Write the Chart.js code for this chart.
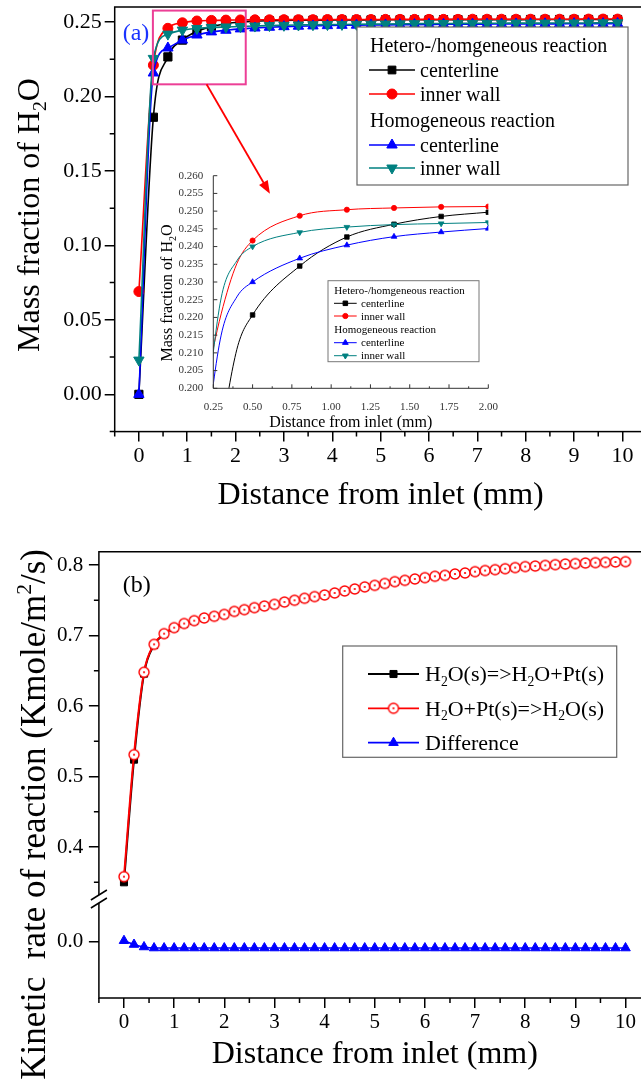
<!DOCTYPE html>
<html><head><meta charset="utf-8">
<script src="https://cdn.jsdelivr.net/npm/chart.js@4.4.0/dist/chart.umd.min.js"></script>
<style>
html,body{margin:0;padding:0;background:#fff;overflow:hidden;width:641px;height:1087px;position:relative;}
canvas{position:absolute;}
#cA{left:0;top:0;} #cIn{left:150px;top:160px;} #cB{left:0;top:520px;}
</style></head><body>
<canvas id="cA" width="680" height="520"></canvas>
<canvas id="cIn" width="350" height="275"></canvas>
<canvas id="cB" width="680" height="567"></canvas>
<script>
// ---------- DATA: panel (a) ----------
const distA = [0,0.3,0.6,0.9,1.2,1.5,1.8,2.1,2.4,2.7,3.0,3.3,3.6,3.9,4.2,4.5,4.8,5.1,5.4,5.7,6.0,6.3,6.6,6.9,7.2,7.5,7.8,8.1,8.4,8.7,9.0,9.3,9.6,9.9];
const hetCenter = [0,0.186,0.2265,0.2378,0.2437,0.2469,0.2488,0.2499,0.2505,0.2508,0.2510,0.2511,0.2512,0.2512,0.2513,0.2513,0.2513,0.2514,0.2514,0.2514,0.2514,0.2515,0.2515,0.2515,0.2515,0.2515,0.2515,0.2516,0.2516,0.2516,0.2516,0.2516,0.2516,0.2516];
const hetWall = [0.069,0.221,0.2457,0.2494,0.2506,0.2510,0.2512,0.2513,0.2514,0.2514,0.2515,0.2515,0.2515,0.2516,0.2516,0.2516,0.2516,0.2517,0.2517,0.2517,0.2517,0.2517,0.2517,0.2518,0.2518,0.2518,0.2518,0.2518,0.2518,0.2518,0.2518,0.2519,0.2519,0.2519];
const homCenter = [0,0.2157,0.2325,0.2378,0.2412,0.2433,0.2444,0.2453,0.2459,0.2464,0.2468,0.2471,0.2473,0.2475,0.2477,0.2478,0.2479,0.2480,0.2481,0.2482,0.2483,0.2484,0.2484,0.2485,0.2485,0.2486,0.2486,0.2487,0.2487,0.2487,0.2488,0.2488,0.2488,0.2489];
const homWall = [0.023,0.2255,0.2418,0.2445,0.2456,0.2463,0.2466,0.2469,0.2472,0.2475,0.2477,0.2479,0.2481,0.2482,0.2483,0.2484,0.2485,0.2486,0.2487,0.2488,0.2489,0.2489,0.2490,0.2490,0.2491,0.2491,0.2492,0.2492,0.2492,0.2493,0.2493,0.2493,0.2494,0.2494];
const xTicksA = [0,1,2,3,4,5,6,7,8,9,10];
const yTicksA = [0,0.05,0.10,0.15,0.20,0.25];
const xMinorA = [-0.5,0.5,1.5,2.5,3.5,4.5,5.5,6.5,7.5,8.5,9.5,10.5];
const yMinorA = [-0.025,0.025,0.075,0.125,0.175,0.225];

// ---------- DATA: inset ----------
const distIn = [0.2,0.3,0.4,0.5,0.8,1.1,1.4,1.7,2.0];
const inHetCenter = [0.150,0.186,0.211,0.2207,0.2345,0.2427,0.2463,0.2485,0.2497];
const inHetWall = [0.201,0.221,0.2352,0.2417,0.2487,0.2504,0.2509,0.2512,0.2513];
const inHomCenter = [0.185,0.215,0.2258,0.2300,0.2367,0.2404,0.2428,0.2441,0.2451];
const inHomWall = [0.192,0.2255,0.2360,0.2400,0.2440,0.2455,0.2462,0.2465,0.2468];
const xTicksIn = [0.25,0.50,0.75,1.00,1.25,1.50,1.75,2.00];
const yTicksIn = [0.200,0.205,0.210,0.215,0.220,0.225,0.230,0.235,0.240,0.245,0.250,0.255,0.260];
const xMinorIn = [0.375,0.625,0.875,1.125,1.375,1.625,1.875];

// ---------- DATA: panel (b) ----------
const distB = [0,0.2,0.4,0.6,0.8,1.0,1.2,1.4,1.6,1.8,2.0,2.2,2.4,2.6,2.8,3.0,3.2,3.4,3.6,3.8,4.0,4.2,4.4,4.6,4.8,5.0,5.2,5.4,5.6,5.8,6.0,6.2,6.4,6.6,6.8,7.0,7.2,7.4,7.6,7.8,8.0,8.2,8.4,8.6,8.8,9.0,9.2,9.4,9.6,9.8,10.0];
const rateDesorb = [0.350,0.524,0.646,0.6865,0.7022,0.7108,0.7167,0.7208,0.7247,0.7271,0.7298,0.7340,0.7365,0.7393,0.7416,0.7440,0.7473,0.7498,0.7526,0.7550,0.7573,0.7602,0.7630,0.7658,0.7688,0.7710,0.7736,0.7762,0.7781,0.7800,0.7819,0.7838,0.7852,0.7871,0.7885,0.7904,0.7920,0.7932,0.7946,0.7962,0.7976,0.7984,0.7993,0.8003,0.8012,0.8018,0.8026,0.8032,0.8036,0.8041,0.8046];
const rateAdsorb = [0.358,0.531,0.648,0.6875,0.7027,0.7112,0.7170,0.7211,0.7249,0.7273,0.7300,0.7342,0.7367,0.7395,0.7418,0.7442,0.7475,0.7500,0.7528,0.7552,0.7575,0.7604,0.7632,0.7660,0.7690,0.7712,0.7738,0.7764,0.7783,0.7802,0.7821,0.7840,0.7854,0.7873,0.7887,0.7906,0.7922,0.7934,0.7948,0.7964,0.7978,0.7986,0.7995,0.8005,0.8014,0.8020,0.8028,0.8034,0.8038,0.8043,0.8048];
const rateDiff = [0.0014,-0.004,-0.0075,-0.009,-0.009,-0.009,-0.009,-0.009,-0.009,-0.009,-0.009,-0.009,-0.009,-0.009,-0.009,-0.009,-0.009,-0.009,-0.009,-0.009,-0.009,-0.009,-0.009,-0.009,-0.009,-0.009,-0.009,-0.009,-0.009,-0.009,-0.009,-0.009,-0.009,-0.009,-0.009,-0.009,-0.009,-0.009,-0.009,-0.009,-0.009,-0.009,-0.009,-0.009,-0.009,-0.009,-0.009,-0.009,-0.009,-0.009,-0.009];
const xTicksB = [0,1,2,3,4,5,6,7,8,9,10];
const yTicksBHigh = [0.4,0.5,0.6,0.7,0.8];
const yTicksBLow = [0.0];
const xMinorB = [-0.5,0.5,1.5,2.5,3.5,4.5,5.5,6.5,7.5,8.5,9.5,10.5];
const yMinorBHigh = [0.35,0.45,0.55,0.65,0.75];

// zoom-window annotation in panel (a), data coordinates
const zoomWin = {x0:0.29, x1:2.21, y0:0.2081, y1:0.2576};
const arrowFrom = {x:1.4, y:0.2081}, arrowTo = {x:2.71, y:0.1347};

// ---------- helpers ----------
const SERIF = "'Liberation Serif','Times New Roman',Times,serif";
const BLACK='#000000', RED='#ff0000', BLUE='#0000ff', TEAL='#008080';
function pts(xs, ys){ return xs.map((x,i)=>({x:x, y:ys[i]})); }
function fixW(w){ return s => { s.width = w; s.paddingTop=0; s.paddingBottom=0; s.paddingLeft=0; s.paddingRight=0; }; }
function fixH(h){ return s => { s.height = h; s.paddingTop=0; s.paddingBottom=0; s.paddingLeft=0; s.paddingRight=0; }; }
function setTicks(arr){ return s => { s.ticks = arr.map(v => ({value:v})); }; }

function drawRich(ctx, parts, x, y, size, opts){
  opts = opts || {};
  ctx.save();
  ctx.translate(x, y);
  if (opts.rotate) ctx.rotate(-Math.PI/2);
  ctx.fillStyle = opts.color || '#000';
  ctx.textBaseline = 'alphabetic';
  ctx.textAlign = 'left';
  const segs = parts.map(p => {
    const s = (p.sub || p.sup) ? size*0.62 : size;
    ctx.font = s + 'px ' + SERIF;
    return {t:p.t, s:s, w:ctx.measureText(p.t).width, dy: p.sub ? size*0.22 : (p.sup ? -size*0.4 : 0)};
  });
  const total = segs.reduce((a,b)=>a+b.w, 0);
  let cx = opts.align === 'center' ? -total/2 : (opts.align === 'right' ? -total : 0);
  const base = size*0.33;
  for (const sg of segs){
    ctx.font = sg.s + 'px ' + SERIF;
    ctx.fillText(sg.t, cx, base + sg.dy);
    cx += sg.w;
  }
  ctx.restore();
}

function makeOpenCircle(r, color){
  const c = document.createElement('canvas');
  const s = Math.ceil(2*r + 4); c.width = s; c.height = s;
  const g = c.getContext('2d');
  g.beginPath(); g.arc(s/2, s/2, r, 0, Math.PI*2);
  g.fillStyle = '#fff'; g.fill();
  g.lineWidth = 1.4; g.strokeStyle = color; g.stroke();
  g.beginPath(); g.arc(s/2, s/2, 1.1, 0, Math.PI*2); g.fillStyle = color; g.fill();
  return c;
}
const openCircle = makeOpenCircle(5, RED);

function drawMarker(ctx, m, x, y){
  ctx.save();
  ctx.translate(x, y);
  if (m.image){ ctx.drawImage(m.image, -m.image.width/2, -m.image.height/2); ctx.restore(); return; }
  ctx.fillStyle = m.color; ctx.strokeStyle = m.color; ctx.lineWidth = 1;
  const r = m.r;
  ctx.beginPath();
  if (m.style === 'rect'){ const s = r*Math.SQRT1_2; ctx.rect(-s,-s,2*s,2*s); }
  else if (m.style === 'circle'){ ctx.arc(0,0,r,0,Math.PI*2); }
  else { const d = m.down ? -1 : 1; ctx.moveTo(0,-d*r); ctx.lineTo(0.866*r, d*0.5*r); ctx.lineTo(-0.866*r, d*0.5*r); ctx.closePath(); }
  ctx.fill(); ctx.stroke();
  ctx.restore();
}
function legendSample(ctx, x0, x1, y, color, lw, m){
  ctx.save();
  ctx.strokeStyle = color; ctx.lineWidth = lw;
  ctx.beginPath(); ctx.moveTo(x0, y); ctx.lineTo(x1, y); ctx.stroke();
  ctx.restore();
  drawMarker(ctx, m, (x0+x1)/2, y);
}
function tickMarks(ctx, scale, vals, axis, base, len){
  ctx.beginPath();
  for (const v of vals){
    const p = scale.getPixelForValue(v);
    if (axis === 'x'){ ctx.moveTo(p, base); ctx.lineTo(p, base + len); }
    else { ctx.moveTo(base, p); ctx.lineTo(base + len, p); }
  }
  ctx.stroke();
}

const H2O = [{t:'Mass fraction of H'},{t:'2',sub:true},{t:'O'}];

// ---------- plugins ----------
const decoA = {
  id:'decoA',
  afterDraw(chart){
    const {ctx, chartArea:ca, scales:{x, y}} = chart;
    ctx.save();
    ctx.strokeStyle = '#000'; ctx.lineWidth = 1.5;
    ctx.strokeRect(ca.left, ca.top, ca.right-ca.left, ca.bottom-ca.top);
    tickMarks(ctx, x, xMinorA, 'x', ca.bottom, 5);
    tickMarks(ctx, y, yMinorA, 'y', ca.left, -5);
    // zoom window
    ctx.strokeStyle = '#ec3f96'; ctx.lineWidth = 2;
    const bx0 = x.getPixelForValue(zoomWin.x0), bx1 = x.getPixelForValue(zoomWin.x1);
    const by0 = y.getPixelForValue(zoomWin.y1), by1 = y.getPixelForValue(zoomWin.y0);
    ctx.strokeRect(bx0, by0, bx1-bx0, by1-by0);
    // arrow
    const ax0 = x.getPixelForValue(arrowFrom.x), ay0 = y.getPixelForValue(arrowFrom.y);
    const ax1 = x.getPixelForValue(arrowTo.x), ay1 = y.getPixelForValue(arrowTo.y);
    const ang = Math.atan2(ay1-ay0, ax1-ax0);
    ctx.strokeStyle = RED; ctx.fillStyle = RED; ctx.lineWidth = 1.8;
    ctx.beginPath(); ctx.moveTo(ax0, ay0); ctx.lineTo(ax1 - 10*Math.cos(ang), ay1 - 10*Math.sin(ang)); ctx.stroke();
    ctx.beginPath(); ctx.moveTo(ax1, ay1);
    ctx.lineTo(ax1 - 13*Math.cos(ang) + 5*Math.sin(ang), ay1 - 13*Math.sin(ang) - 5*Math.cos(ang));
    ctx.lineTo(ax1 - 13*Math.cos(ang) - 5*Math.sin(ang), ay1 - 13*Math.sin(ang) + 5*Math.cos(ang));
    ctx.closePath(); ctx.fill();
    // panel label
    drawRich(ctx, [{t:'(a)'}], 122.7, 32, 24, {color:'#1a33ff'});
    // legend
    ctx.fillStyle = '#fff'; ctx.fillRect(357, 27, 271, 158);
    ctx.strokeStyle = '#666'; ctx.lineWidth = 1.2; ctx.strokeRect(357, 27, 271, 158);
    const L = 20;
    drawRich(ctx, [{t:'Hetero-/homgeneous reaction'}], 370, 45, L);
    legendSample(ctx, 369, 415, 70, BLACK, 1.5, {style:'rect', r:5.5, color:BLACK});
    drawRich(ctx, [{t:'centerline'}], 420, 70, L);
    legendSample(ctx, 369, 415, 94, RED, 1.5, {style:'circle', r:5, color:RED});
    drawRich(ctx, [{t:'inner wall'}], 420, 94, L);
    drawRich(ctx, [{t:'Homogeneous reaction'}], 370, 120, L);
    legendSample(ctx, 369, 415, 145, BLUE, 1.5, {style:'triangle', r:6, color:BLUE});
    drawRich(ctx, [{t:'centerline'}], 420, 145, L);
    legendSample(ctx, 369, 415, 168, TEAL, 1.5, {style:'triangle', r:6, color:TEAL, down:true});
    drawRich(ctx, [{t:'inner wall'}], 420, 168, L);
    // axis titles
    drawRich(ctx, [{t:'Distance from inlet (mm)'}], (ca.left+ca.right)/2, 493.6, 32, {align:'center'});
    drawRich(ctx, H2O, 28, 215, 32, {align:'center', rotate:true});
    ctx.restore();
  }
};

const decoIn = {
  id:'decoIn',
  afterDraw(chart){
    const {ctx, chartArea:ca, scales:{x, y}} = chart;
    ctx.save();
    ctx.strokeStyle = '#333'; ctx.lineWidth = 1;
    ctx.beginPath(); ctx.moveTo(ca.left, ca.top); ctx.lineTo(ca.left, ca.bottom); ctx.lineTo(ca.right, ca.bottom); ctx.stroke();
    tickMarks(ctx, x, xTicksIn, 'x', ca.bottom, -4);
    tickMarks(ctx, x, xMinorIn, 'x', ca.bottom, -2);
    tickMarks(ctx, y, yTicksIn, 'y', ca.left, 4);
    // legend
    ctx.fillStyle = '#fff'; ctx.fillRect(178, 120.7, 151, 81);
    ctx.strokeStyle = '#777'; ctx.lineWidth = 1; ctx.strokeRect(178, 120.7, 151, 81);
    const L = 11;
    drawRich(ctx, [{t:'Hetero-/homgeneous reaction'}], 184.3, 130, L);
    legendSample(ctx, 184, 206.7, 143.3, BLACK, 1, {style:'rect', r:3.2, color:BLACK});
    drawRich(ctx, [{t:'centerline'}], 211, 143.3, L);
    legendSample(ctx, 184, 206.7, 156, RED, 1, {style:'circle', r:2.6, color:RED});
    drawRich(ctx, [{t:'inner wall'}], 211, 156, L);
    drawRich(ctx, [{t:'Homogeneous reaction'}], 184.3, 169.7, L);
    legendSample(ctx, 184, 206.7, 182.7, BLUE, 1, {style:'triangle', r:3.3, color:BLUE});
    drawRich(ctx, [{t:'centerline'}], 211, 182.7, L);
    legendSample(ctx, 184, 206.7, 195.7, TEAL, 1, {style:'triangle', r:3.3, color:TEAL, down:true});
    drawRich(ctx, [{t:'inner wall'}], 211, 195.7, L);
    // titles
    drawRich(ctx, [{t:'Distance from inlet (mm)'}], (ca.left+ca.right)/2, 261.7, 16, {align:'center'});
    drawRich(ctx, H2O, 17, 133, 16, {align:'center', rotate:true});
    ctx.restore();
  }
};

const decoB = {
  id:'decoB',
  afterDraw(chart){
    const {ctx, chartArea:ca, scales} = chart;
    const x = scales.x, yH = scales.yHigh, yL = scales.yLow;
    const brk = yH.bottom;
    ctx.save();
    ctx.strokeStyle = '#000'; ctx.lineWidth = 1.5;
    ctx.beginPath();
    ctx.moveTo(ca.left, brk-4); ctx.lineTo(ca.left, ca.top); ctx.lineTo(ca.right, ca.top);
    ctx.lineTo(ca.right, ca.bottom); ctx.lineTo(ca.left, ca.bottom); ctx.lineTo(ca.left, brk+4);
    ctx.stroke();
    ctx.beginPath();
    for (const dy of [-4, 4]){ ctx.moveTo(ca.left-8, brk+dy+5); ctx.lineTo(ca.left+8, brk+dy-5); }
    ctx.stroke();
    tickMarks(ctx, x, xMinorB, 'x', ca.bottom, 5);
    tickMarks(ctx, yH, yMinorBHigh, 'y', ca.left, -5);
    drawRich(ctx, [{t:'(b)'}], 122.7, 64, 24);
    // legend
    ctx.fillStyle = '#fff'; ctx.fillRect(342.7, 126, 274, 111.3);
    ctx.strokeStyle = '#666'; ctx.lineWidth = 1.2; ctx.strokeRect(342.7, 126, 274, 111.3);
    const L = 22;
    legendSample(ctx, 368, 419, 154, BLACK, 1.8, {style:'rect', r:5, color:BLACK});
    drawRich(ctx, [{t:'H'},{t:'2',sub:true},{t:'O(s)=>H'},{t:'2',sub:true},{t:'O+Pt(s)'}], 425, 154, L);
    legendSample(ctx, 368, 419, 188.3, RED, 1.8, {image:openCircle});
    drawRich(ctx, [{t:'H'},{t:'2',sub:true},{t:'O+Pt(s)=>H'},{t:'2',sub:true},{t:'O(s)'}], 425, 188.3, L);
    legendSample(ctx, 368, 419, 222.7, BLUE, 1.8, {style:'triangle', r:5.5, color:BLUE});
    drawRich(ctx, [{t:'Difference'}], 425, 222.7, L);
    // titles
    drawRich(ctx, [{t:'Distance from inlet (mm)'}], (ca.left+ca.right)/2, 532, 32, {align:'center'});
    drawRich(ctx, [{t:'Kinetic  rate of reaction (Kmole/m'},{t:'2',sup:true},{t:'/s)'}], 33, 29, 35, {align:'right', rotate:true});
    ctx.restore();
  }
};

const baseOpts = {responsive:false, animation:false, devicePixelRatio:1, events:[],
  plugins:{legend:{display:false}, tooltip:{enabled:false}},
  elements:{line:{cubicInterpolationMode:'monotone'}}};
const majorGrid = {display:true, drawOnChartArea:false, drawTicks:true, tickLength:10, color:'#000', lineWidth:1.5};

// ---------- chart (a) ----------
function dsA(data, color, style, r, order, rot){
  return {data:data, borderColor:color, backgroundColor:color, pointBackgroundColor:color, pointBorderColor:color,
    borderWidth:1.6, pointStyle:style, pointRadius:r, pointBorderWidth:1, pointRotation:rot||0, order:order};
}
new Chart(document.getElementById('cA'), {
  type:'line',
  data:{datasets:[
    dsA(pts(distA, hetCenter), BLACK, 'rect', 5.8, 4),
    dsA(pts(distA, hetWall), RED, 'circle', 5, 3),
    dsA(pts(distA, homCenter), BLUE, 'triangle', 6, 2),
    dsA(pts(distA, homWall), TEAL, 'triangle', 6, 1, 180)
  ]},
  options:Object.assign({}, baseOpts, {
    layout:{padding:{left:0, top:5.76, right:33.4, bottom:0}},
    scales:{
      x:{type:'linear', min:-0.5, max:10.5, afterFit:fixH(88.4), afterBuildTicks:setTicks(xTicksA),
        grid:majorGrid, border:{display:false},
        ticks:{font:{size:22, family:SERIF}, color:'#000', padding:1, autoSkip:false, maxRotation:0, callback:v=>String(v)}},
      y:{type:'linear', min:-0.025, max:0.26, afterFit:fixW(114.7), afterBuildTicks:setTicks(yTicksA),
        grid:majorGrid, border:{display:false},
        ticks:{font:{size:22, family:SERIF}, color:'#000', padding:3, autoSkip:false, callback:v=>Number(v).toFixed(2)}}
    }
  }),
  plugins:[decoA]
});

// ---------- inset ----------
function dsIn(data, color, style, r, order, rot){
  return {data:data, borderColor:color, backgroundColor:color, pointBackgroundColor:color, pointBorderColor:color,
    borderWidth:1, pointStyle:style, pointRadius:c => (c.dataIndex===1 || c.dataIndex===2) ? 0 : r,
    pointBorderWidth:0.8, pointRotation:rot||0, order:order};
}
new Chart(document.getElementById('cIn'), {
  type:'line',
  data:{datasets:[
    dsIn(pts(distIn, inHetCenter), BLACK, 'rect', 3.2, 4),
    dsIn(pts(distIn, inHetWall), RED, 'circle', 2.6, 3),
    dsIn(pts(distIn, inHomCenter), BLUE, 'triangle', 3.3, 2),
    dsIn(pts(distIn, inHomWall), TEAL, 'triangle', 3.3, 1, 180)
  ]},
  options:Object.assign({}, baseOpts, {
    layout:{padding:{left:0, top:15.7, right:11.7, bottom:0}},
    scales:{
      x:{type:'linear', min:0.25, max:2.0, afterFit:fixH(46.7), afterBuildTicks:setTicks(xTicksIn),
        grid:{display:false}, border:{display:false},
        ticks:{font:{size:11, family:SERIF}, color:'#333', padding:4, autoSkip:false, maxRotation:0, callback:v=>Number(v).toFixed(2)}},
      y:{type:'linear', min:0.2, max:0.26, afterFit:fixW(63.3), afterBuildTicks:setTicks(yTicksIn),
        grid:{display:false}, border:{display:false},
        ticks:{font:{size:11, family:SERIF}, color:'#333', padding:2, autoSkip:false, callback:v=>Number(v).toFixed(3)}}
    }
  }),
  plugins:[decoIn]
});

// ---------- chart (b) ----------
new Chart(document.getElementById('cB'), {
  type:'line',
  data:{datasets:[
    {data:pts(distB, rateDesorb), yAxisID:'yHigh', borderColor:BLACK, backgroundColor:BLACK, pointBackgroundColor:BLACK, pointBorderColor:BLACK,
      borderWidth:2, pointStyle:'rect', pointRadius:5, pointBorderWidth:1, order:2},
    {data:pts(distB, rateAdsorb), yAxisID:'yHigh', borderColor:RED, backgroundColor:RED,
      borderWidth:2, pointStyle:openCircle, pointRadius:5, order:1},
    {data:pts(distB, rateDiff), yAxisID:'yLow', borderColor:BLUE, backgroundColor:BLUE, pointBackgroundColor:BLUE, pointBorderColor:BLUE,
      borderWidth:1.5, pointStyle:'triangle', pointRadius:5.5, pointBorderWidth:1, order:3}
  ]},
  options:Object.assign({}, baseOpts, {
    layout:{padding:{left:0, top:31.7, right:29.4, bottom:0}},
    scales:{
      x:{type:'linear', min:-0.5, max:10.5, afterFit:fixH(89), afterBuildTicks:setTicks(xTicksB),
        grid:majorGrid, border:{display:false},
        ticks:{font:{size:21, family:SERIF}, color:'#000', padding:2, autoSkip:false, maxRotation:0, callback:v=>String(v)}},
      yHigh:{type:'linear', position:'left', stack:'kin', stackWeight:347.3, weight:2, min:0.3263, max:0.8189,
        afterFit:fixW(98.9), afterBuildTicks:setTicks(yTicksBHigh), grid:majorGrid, border:{display:false},
        ticks:{font:{size:21, family:SERIF}, color:'#000', padding:5.6, autoSkip:false, callback:v=>Number(v).toFixed(1)}},
      yLow:{type:'linear', position:'left', stack:'kin', stackWeight:99, weight:1, min:-0.0799, max:0.0606,
        afterFit:fixW(98.9), afterBuildTicks:setTicks(yTicksBLow), grid:majorGrid, border:{display:false},
        ticks:{font:{size:21, family:SERIF}, color:'#000', padding:5.6, autoSkip:false, callback:v=>Number(v).toFixed(1)}}
    }
  }),
  plugins:[decoB]
});
</script>
</body></html>
